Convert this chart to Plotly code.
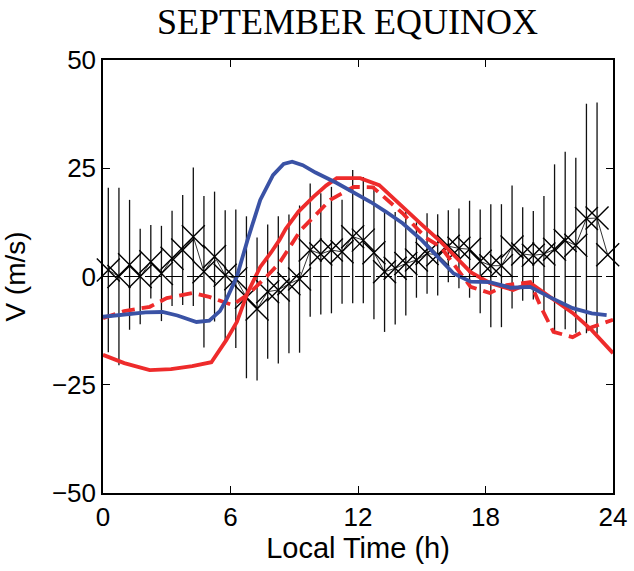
import plotly.graph_objects as go

# Black observations (0.5 h bins)
obs_t = [0.25 + 0.5 * i for i in range(48)]
obs_v = [1.5, 0.0, 2.7, 0.0, 3.4, 0.7, 4.2, 6.1, 9.2, 1.1, 4.6, 0.3,
         -0.5, -4.8, -7.5, -3.5, -3.1, -1.7, -0.6, 6.1, 5.2, 6.1, 5.7, 9.2,
         8.4, 5.5, 1.1, 1.9, 3.0, 3.8, 5.3, 5.0, 7.0, 6.5, 6.3, 3.5,
         2.5, 2.5, 6.8, 5.2, 4.9, 5.2, 6.3, 8.3, 7.2, 13.4, 13.5, 5.0]
obs_err = [19, 20.5, 15, 11, 8.5, 11, 11, 12.7, 16, 17.5, 15, 15,
           16, 18.7, 16.5, 15.5, 17, 16, 17, 15.4, 14, 14.6, 12, 15.4,
           14.6, 15.4, 13.9, 13, 12, 8.7, 9.3, 9.4, 8.3, 9.2, 11.2, 12,
           14.2, 14.2, 14.2, 10.8, 10.2, 13.4, 19.6, 20.5, 20.2, 26.5, 26.7, 0]

# Blue model
blue_t = [0, 1, 2, 2.8, 3.5, 4.4, 5.0, 5.5, 5.8, 6.3, 6.8, 7.4, 8.0, 8.5, 8.9, 9.4,
          10, 11, 12, 12.6, 13.3, 14.1, 15.0, 15.9, 16.5, 17.3, 18.2, 19.2, 20.1,
          21, 22.1, 23, 23.7]
blue_v = [-9.3, -8.8, -8.3, -8.2, -9.0, -10.5, -10.2, -8.0, -5.4, 0.0, 8.4, 17.7,
          23.4, 26.0, 26.5, 25.7, 24.0, 21.6, 19.0, 17.2, 15.0, 12.3, 8.4, 3.8, 0.7,
          -1.2, -1.3, -2.6, -2.4, -4.7, -7.3, -8.5, -8.9]

# Red solid model
red_t = [0, 1, 2.2, 3.2, 4.2, 5.1, 5.8, 6.3, 6.8, 7.4, 7.9, 8.3, 8.6, 9.2, 9.9,
         10.5, 11, 12.1, 13, 14.1, 15.0, 15.9, 16.5, 17.3, 18.2, 19.3, 20.1, 21,
         22.1, 23, 24]
red_v = [-18.1, -20.0, -21.6, -21.4, -20.7, -19.8, -14.7, -10.5, -3.8, 2.2, 5.5,
         8.4, 11.0, 15.0, 18.4, 21.0, 22.7, 22.7, 21.1, 16.0, 12.0, 8.0, 5.0, 1.0,
         -1.5, -3.1, -1.5, -4.7, -8.4, -12.4, -17.7]

# Red dashed model
redd_t = [0, 1, 2.2, 3, 4.2, 5, 6.1, 6.9, 7.7, 8.3, 9.3, 10.7, 11.8, 12.7, 14.1,
          15.2, 15.9, 16.5, 17.3, 18.2, 19, 20.1, 20.6, 21.2, 22.1, 23, 24]
redd_v = [-9.6, -8.0, -7.0, -5.0, -3.8, -4.7, -6.6, -3.8, 0.0, 3.1, 10.7, 17.7,
          20.7, 20.6, 14.6, 8.9, 6.8, 3.0, -2.4, -3.8, -2.0, -1.3, -7.0, -12.8,
          -14.0, -11.7, -10.0]

x_ticks = [0, 6, 12, 18, 24]
y_ticks = [-50, -25, 0, 25, 50]

fig = go.Figure()

fig.add_hline(y=0, line=dict(color="black", width=1, dash="16px,5px"))

fig.add_trace(go.Scatter(
    x=obs_t, y=obs_v, mode="lines+markers",
    line=dict(color="black", width=0.8),
    marker=dict(symbol="x-thin", size=23, line=dict(color="black", width=1.4)),
    error_y=dict(type="data", array=obs_err, color="#111111", thickness=1.3, width=0),
    showlegend=False, cliponaxis=False))

fig.add_trace(go.Scatter(x=redd_t, y=redd_v, mode="lines",
                         line=dict(color="#EE2B2B", width=3.8, dash="13px,7px"),
                         showlegend=False))
fig.add_trace(go.Scatter(x=red_t, y=red_v, mode="lines",
                         line=dict(color="#EE2B2B", width=3.8),
                         showlegend=False))
fig.add_trace(go.Scatter(x=blue_t, y=blue_v, mode="lines",
                         line=dict(color="#3A52A5", width=3.8),
                         showlegend=False))

axis_common = dict(showgrid=False, zeroline=False, showline=True, linecolor="black",
                   linewidth=1.5, mirror="ticks", ticks="inside", ticklen=7,
                   tickwidth=1, tickcolor="black", automargin=False,
                   tickfont=dict(family="Liberation Sans, Arial", size=26, color="black"))

fig.update_xaxes(range=[0, 24], tickvals=x_ticks,
                 title=dict(text="Local Time (h)", standoff=2,
                            font=dict(family="Liberation Sans, Arial", size=29, color="black")),
                 **axis_common)
fig.update_yaxes(range=[-50, 50], tickvals=y_ticks,
                 title=dict(text="V (m/s)", standoff=20,
                            font=dict(family="Liberation Sans, Arial", size=28, color="black")),
                 **axis_common)

fig.add_annotation(text="SEPTEMBER EQUINOX", xref="paper", yref="paper",
                   x=0.48, y=1.088, yanchor="middle", showarrow=False,
                   font=dict(family="Liberation Serif, Times New Roman", size=36, color="black"))

fig.update_layout(width=634, height=571, plot_bgcolor="white", paper_bgcolor="white",
                  margin=dict(l=103, r=21, t=60, b=78))

fig.write_html("out.html", config={"displayModeBar": False},
               post_script="document.body.style.margin='0px';")
